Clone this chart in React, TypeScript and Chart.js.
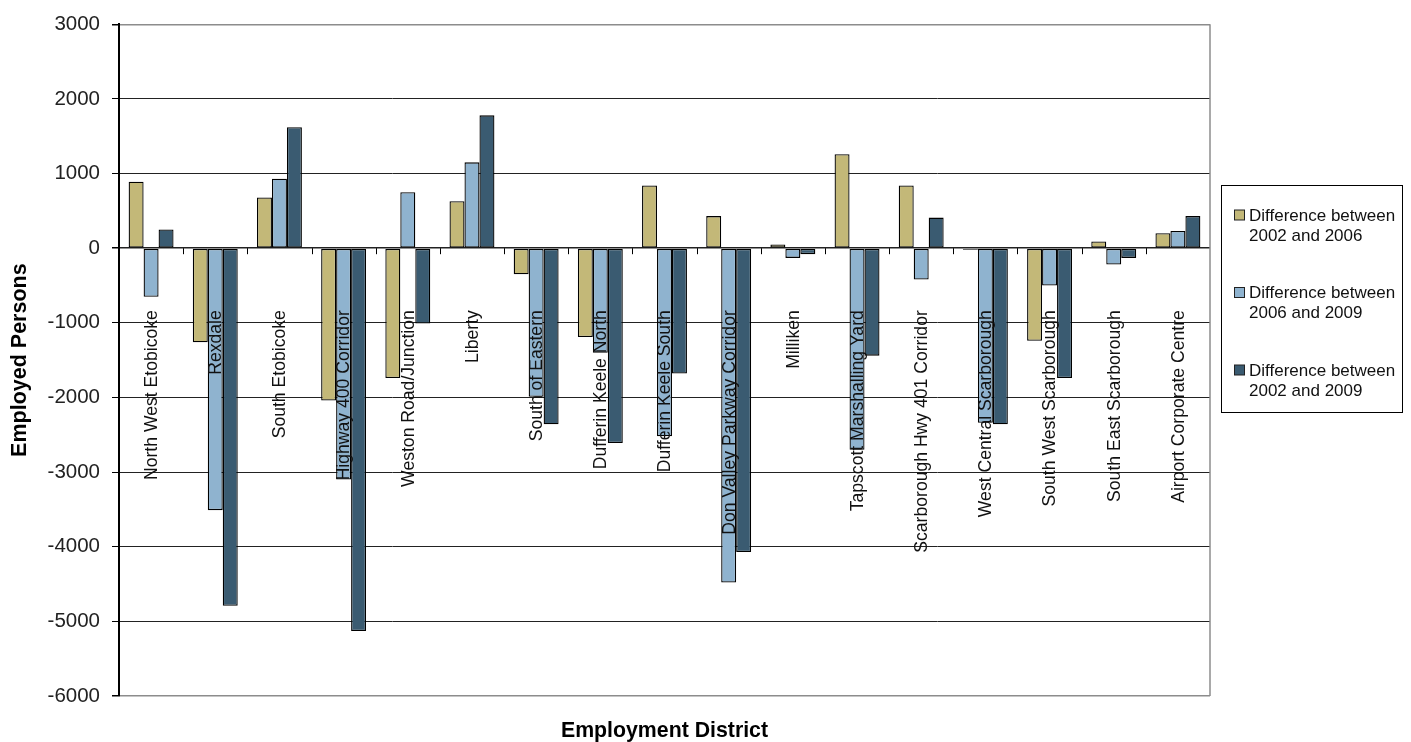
import React, { useEffect, useRef } from "react";
import { Chart, registerables } from "chart.js";

Chart.register(...registerables);

const categories = [
  "North West Etobicoke",
  "Rexdale",
  "South Etobicoke",
  "Highway 400 Corridor",
  "Weston Road/Junction",
  "Liberty",
  "South of Eastern",
  "Dufferin Keele North",
  "Dufferin Keele South",
  "Don Valley Parkway Corridor",
  "Milliken",
  "Tapscott Marshalling Yard",
  "Scarborough Hwy 401 Corridor",
  "West Central Scarborough",
  "South West Scarborough",
  "South East Scarborough",
  "Airport Corporate Centre",
];

const diff2002to2006 = [890, -1260, 680, -2040, -1740, 630, -350, -1190, 840, 430, 50, 1260, 840, -20, -1240, 90, 200];
const diff2006to2009 = [-650, -3510, 930, -3100, 750, 1150, -1990, -1400, -2520, -4480, -130, -2700, -420, -2340, -500, -220, 230];
const diff2002to2009 = [250, -4790, 1620, -5130, -1010, 1780, -2360, -2610, -1680, -4070, -80, -1440, 410, -2360, -1740, -130, 430];

const seriesLabels = [
  ["Difference between", "2002 and 2006"],
  ["Difference between", "2006 and 2009"],
  ["Difference between", "2002 and 2009"],
];
const seriesColors = ["#C3B878", "#8FB3CF", "#3A5B71"];

const yMin = -6000;
const yMax = 3000;
const yStep = 1000;

const yTitle = "Employed Persons";
const xTitle = "Employment District";

const FONT = "'Liberation Sans', Arial, sans-serif";

const overlayPlugin = {
  id: "overlay",
  afterDatasetsDraw(chart: any) {
    const { ctx, chartArea, scales } = chart;
    const xs = scales.x;
    const ys = scales.y;
    const y0 = ys.getPixelForValue(0);
    const n = categories.length;
    const catW = (chartArea.right - chartArea.left) / n;

    ctx.save();
    ctx.strokeStyle = "#000";
    ctx.lineWidth = 1;
    for (let k = 1; k < n; k++) {
      const x = Math.round(chartArea.left + k * catW) + 0.5;
      ctx.beginPath();
      ctx.moveTo(x, y0);
      ctx.lineTo(x, y0 + 6);
      ctx.stroke();
    }

    ctx.fillStyle = "#111";
    ctx.font = `17.6px ${FONT}`;
    ctx.textAlign = "right";
    ctx.textBaseline = "middle";
    categories.forEach((c, i) => {
      const x = xs.getPixelForValue(i);
      ctx.save();
      ctx.translate(x, y0 + 62);
      ctx.rotate(-Math.PI / 2);
      ctx.fillText(c, 0, 1);
      ctx.restore();
    });

    ctx.strokeStyle = "#8c8c8c";
    ctx.lineWidth = 1.5;
    ctx.beginPath();
    ctx.moveTo(chartArea.right, chartArea.top);
    ctx.lineTo(chartArea.right, chartArea.bottom);
    ctx.stroke();
    ctx.restore();
  },
  afterDraw(chart: any) {
    const { ctx, chartArea } = chart;
    ctx.save();
    ctx.fillStyle = "#000";
    ctx.font = `bold 21.5px ${FONT}`;
    ctx.textAlign = "center";
    ctx.textBaseline = "middle";
    ctx.save();
    ctx.translate(20, (chartArea.top + chartArea.bottom) / 2);
    ctx.rotate(-Math.PI / 2);
    ctx.fillText(yTitle, 0, 0);
    ctx.restore();
    ctx.font = `bold 21.3px ${FONT}`;
    ctx.fillText(xTitle, (chartArea.left + chartArea.right) / 2, 731);

    const lx = 1221.5, ly = 185.5, lw = 181, lh = 227;
    ctx.strokeStyle = "#000";
    ctx.lineWidth = 1;
    ctx.strokeRect(lx, ly, lw, lh);
    ctx.font = `17px ${FONT}`;
    ctx.textAlign = "left";
    seriesLabels.forEach((lines, i) => {
      const cy = 215 + i * 77.5;
      ctx.fillStyle = seriesColors[i];
      ctx.fillRect(1234.5, cy - 5, 10, 10);
      ctx.strokeStyle = "#222";
      ctx.strokeRect(1234.5, cy - 5, 10, 10);
      ctx.fillStyle = "#111";
      lines.forEach((t, j) => ctx.fillText(t, 1249, cy + j * 20 + 1));
    });
    ctx.restore();
  },
};

export default function App() {
  const ref = useRef<HTMLCanvasElement>(null);
  useEffect(() => {
    if (!ref.current) return;
    const datasets = [diff2002to2006, diff2006to2009, diff2002to2009].map((d, i) => ({
      label: seriesLabels[i].join(" "),
      data: d,
      backgroundColor: seriesColors[i],
      borderColor: "#000",
      borderWidth: 1.3,
      borderSkipped: false,
      categoryPercentage: 0.7,
      barPercentage: 1,
    }));
    const chart = new Chart(ref.current, {
      type: "bar",
      data: { labels: categories, datasets },
      options: {
        responsive: false,
        animation: false,
        devicePixelRatio: 1,
        layout: { padding: { left: 0, top: 22, right: 201, bottom: 46 } },
        plugins: { legend: { display: false }, tooltip: { enabled: false } },
        scales: {
          x: { display: false },
          y: {
            min: yMin,
            max: yMax,
            ticks: {
              stepSize: yStep,
              padding: 12,
              color: "#222",
              font: { family: FONT, size: 20.5 },
              callback: (v: any) => String(v),
            },
            grid: {
              color: (c: any) =>
                c.tick && (c.tick.value === yMax || c.tick.value === yMin) ? "#8c8c8c" : "#222",
              lineWidth: (c: any) =>
                c.tick && (c.tick.value === yMax || c.tick.value === yMin) ? 1.5 : c.tick && c.tick.value === 0 ? 1.5 : 1,
              tickColor: "#000",
              tickLength: 7,
            },
            border: { display: true, color: "#000", width: 2 },
            afterFit: (s: any) => {
              s.width = 119;
            },
          },
        },
      },
      plugins: [overlayPlugin],
    });
    return () => chart.destroy();
  }, []);
  return (
    <div style={{ position: "fixed", left: 0, top: 0, width: 1411, height: 742, background: "#fff" }}>
      <canvas ref={ref} width={1411} height={742} style={{ display: "block" }} />
    </div>
  );
}
